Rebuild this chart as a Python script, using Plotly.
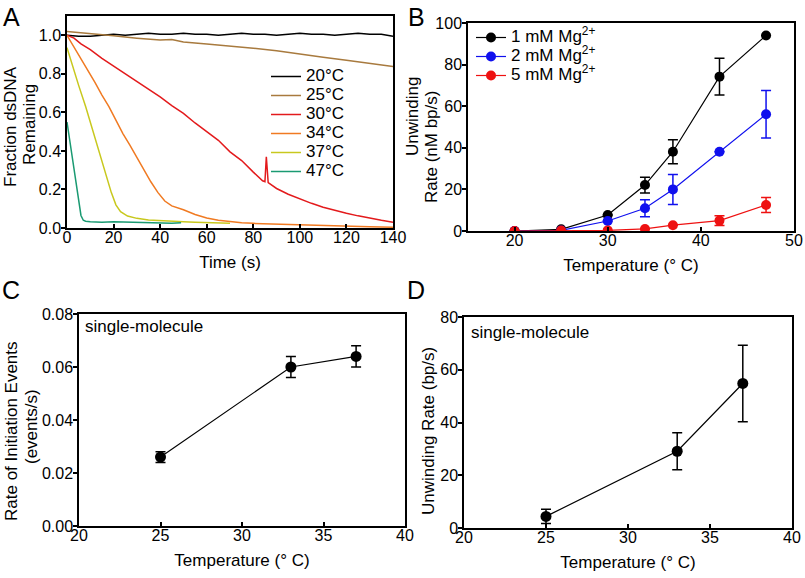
import plotly.graph_objects as go

# ---------------- Panel A data ----------------
t20 = [0, 5, 10, 15, 20, 25, 30, 35, 40, 45, 50, 55, 60, 65, 70, 75, 80, 85, 90, 95, 100, 105, 110, 115, 120, 125, 130, 135, 140]
f20 = [1.00, 0.995, 0.995, 1.0, 1.005, 1.0, 1.005, 1.01, 1.005, 1.005, 1.01, 1.005, 1.005, 1.0, 1.005, 1.01, 1.005, 1.005, 1.0, 1.005, 1.01, 1.005, 1.005, 1.0, 1.005, 1.01, 1.005, 1.005, 0.995]

t25 = [0, 10, 20, 30, 40, 45, 50, 60, 70, 80, 90, 100, 110, 120, 130, 140]
f25 = [1.02, 1.01, 0.997, 0.985, 0.975, 0.978, 0.965, 0.955, 0.945, 0.933, 0.92, 0.902, 0.886, 0.87, 0.855, 0.838]

t30 = [0, 3, 6, 10, 15, 20, 25, 30, 35, 40, 45, 50, 55, 60, 65, 70, 75, 80, 84, 85, 85.6, 86.4, 90, 95, 100, 105, 110, 115, 120, 125, 130, 135, 140]
f30 = [1.0, 0.985, 0.955, 0.925, 0.88, 0.84, 0.80, 0.76, 0.72, 0.68, 0.635, 0.595, 0.545, 0.50, 0.455, 0.395, 0.35, 0.29, 0.245, 0.24, 0.37, 0.235, 0.205, 0.175, 0.15, 0.128, 0.108, 0.09, 0.076, 0.063, 0.05, 0.04, 0.03]

t34 = [0, 3, 6, 9, 12, 15, 18, 21, 24, 27, 30, 33, 36, 39, 42, 45, 50, 55, 60, 65, 70, 75, 80, 90, 100, 110, 120, 130, 140]
f34 = [1.0, 0.94, 0.88, 0.815, 0.755, 0.69, 0.63, 0.56, 0.49, 0.43, 0.365, 0.30, 0.24, 0.185, 0.14, 0.115, 0.095, 0.07, 0.052, 0.04, 0.032, 0.027, 0.024, 0.02, 0.016, 0.013, 0.01, 0.007, 0.004]

t37 = [0, 3, 5, 8, 11, 13, 15, 17, 19, 21, 23, 26, 30, 35, 40, 45, 50, 55, 60, 65, 70]
f37 = [0.936, 0.81, 0.74, 0.63, 0.51, 0.43, 0.35, 0.265, 0.185, 0.12, 0.085, 0.062, 0.05, 0.042, 0.038, 0.035, 0.032, 0.03, 0.028, 0.026, 0.025]

t47 = [0, 1, 2, 3, 4, 5, 6, 7, 8, 10, 15, 20, 25, 30, 35, 40, 45, 49]
f47 = [0.55, 0.47, 0.38, 0.29, 0.21, 0.13, 0.065, 0.04, 0.035, 0.032, 0.03, 0.032, 0.03, 0.028, 0.027, 0.025, 0.025, 0.027]

a_labels = ["20°C", "25°C", "30°C", "34°C", "37°C", "47°C"]
a_colors = ["#000000", "#a87a3e", "#e31a1c", "#f07a22", "#c8c81e", "#1a9a72"]

# ---------------- Panel B data ----------------
b_temp = [20, 25, 30, 34, 37, 42, 47]
b_mg1 = [0, 0.8, 7.7, 22.1, 38.1, 74.2, 94.0]
b_mg1_err = [0, 0, 0, 3.8, 5.8, 8.8, 0]
b_mg2 = [0, 0.3, 4.8, 10.9, 20.0, 38.1, 56.1]
b_mg2_err = [0, 0, 0, 4.1, 7.2, 0, 11.4]
b_mg5 = [0, 0.2, 0.3, 1.0, 2.8, 5.0, 12.5]
b_mg5_err = [0, 0, 0, 0, 0, 2.3, 3.6]
b_labels = ["1 mM Mg<sup>2+</sup>", "2 mM Mg<sup>2+</sup>", "5 mM Mg<sup>2+</sup>"]
b_colors = ["#000000", "#1010ee", "#ee1111"]

# ---------------- Panel C / D data ----------------
sm_temp = [25, 33, 37]
c_rate = [0.026, 0.060, 0.064]
c_err = [0.002, 0.004, 0.004]
d_rate = [4.4, 29.1, 54.8]
d_err = [2.7, 7.0, 14.5]

FONT = "Arial, Liberation Sans, Helvetica, sans-serif"
W, H = 805, 578
FS = 17    # titles / legend
TFS = 16   # tick labels


def big(s):
    return '<span style="font-size:%dpx">%s</span>' % (FS, s)


def px_x(px):
    return px / W


def px_y(py):
    return 1 - py / H


fig = go.Figure()

# Panel A
for t, f, lab, col in zip([t20, t25, t30, t34, t37, t47], [f20, f25, f30, f34, f37, f47], a_labels, a_colors):
    fig.add_trace(go.Scatter(x=t, y=f, mode="lines", name=big(lab), line=dict(color=col, width=1.5),
                             xaxis="x", yaxis="y", legend="legend"))

# Panel B
for y, e, lab, col in zip([b_mg1, b_mg2, b_mg5], [b_mg1_err, b_mg2_err, b_mg5_err], b_labels, b_colors):
    fig.add_trace(go.Scatter(x=b_temp, y=y, mode="lines+markers", name=big(lab),
                             line=dict(color=col, width=1.2), marker=dict(color=col, size=10),
                             error_y=dict(type="data", array=e, color=col, thickness=1.5, width=5),
                             xaxis="x2", yaxis="y2", legend="legend2"))

# Panel C
fig.add_trace(go.Scatter(x=sm_temp, y=c_rate, mode="lines+markers", showlegend=False,
                         line=dict(color="black", width=1.2), marker=dict(color="black", size=11),
                         error_y=dict(type="data", array=c_err, color="black", thickness=1.5, width=5),
                         xaxis="x3", yaxis="y3"))
# Panel D
fig.add_trace(go.Scatter(x=sm_temp, y=d_rate, mode="lines+markers", showlegend=False,
                         line=dict(color="black", width=1.2), marker=dict(color="black", size=11),
                         error_y=dict(type="data", array=d_err, color="black", thickness=1.5, width=5),
                         xaxis="x4", yaxis="y4"))


def dom_x(a, b):
    return [px_x(a), px_x(b)]


def dom_y(top, bottom):
    return [px_y(bottom), px_y(top)]


axis_common = dict(showline=True, linecolor="black", linewidth=1.5, mirror=True, showgrid=False,
                   zeroline=False, tickcolor="black", ticklen=4, tickwidth=1.5, automargin=False,
                   tickfont=dict(family=FONT, size=TFS, color="black"))
xcommon = dict(axis_common, ticks="inside", ticklabelstandoff=-6)
ycommon = dict(axis_common, ticks="outside", ticklabelstandoff=-3)
title_font = dict(family=FONT, size=FS, color="black")

fig.update_layout(
    width=W, height=H, margin=dict(l=0, r=0, t=0, b=0, pad=0, autoexpand=False),
    paper_bgcolor="white", plot_bgcolor="white",
    font=dict(family=FONT, color="black"),
    xaxis=dict(xcommon, domain=dom_x(67, 393), anchor="y", range=[0, 140], dtick=20,
               title=dict(text="Time (s)", font=title_font, standoff=11)),
    yaxis=dict(ycommon, domain=dom_y(16, 228), anchor="x", range=[0, 1.1], tickvals=[0, 0.2, 0.4, 0.6, 0.8, 1.0],
               tickformat=".1f"),
    xaxis2=dict(xcommon, domain=dom_x(468, 794), anchor="y2", range=[15, 50], tickvals=[20, 30, 40, 50],
                title=dict(text="Temperature (° C)", font=title_font, standoff=11)),
    yaxis2=dict(ycommon, domain=dom_y(23, 231), anchor="x2", range=[0, 100], dtick=20),
    xaxis3=dict(xcommon, domain=dom_x(79, 405), anchor="y3", range=[20, 40], dtick=5,
                title=dict(text="Temperature (° C)", font=title_font, standoff=11)),
    yaxis3=dict(ycommon, domain=dom_y(314, 526), anchor="x3", range=[0, 0.08], dtick=0.02,
                tickformat=".2f"),
    xaxis4=dict(xcommon, domain=dom_x(464, 792), anchor="y4", range=[20, 40], dtick=5,
                title=dict(text="Temperature (° C)", font=title_font, standoff=11)),
    yaxis4=dict(ycommon, domain=dom_y(317, 528), anchor="x4", range=[0, 80], dtick=20),
    legend=dict(x=px_x(266), y=px_y(62), xanchor="left", yanchor="top", bgcolor="rgba(0,0,0,0)",
                font=dict(family=FONT, size=11, color="black"), tracegroupgap=0, itemwidth=30),
    legend2=dict(x=px_x(471), y=px_y(23), xanchor="left", yanchor="top", bgcolor="rgba(0,0,0,0)",
                 font=dict(family=FONT, size=11, color="black"), tracegroupgap=0, itemwidth=30),
)


def note(text, px, py, size=FS, angle=0, xanchor="center"):
    fig.add_annotation(text=text, x=px_x(px), y=px_y(py), xref="paper", yref="paper",
                       xanchor=xanchor, yanchor="middle", textangle=angle, showarrow=False,
                       font=dict(family=FONT, size=size, color="black"))


# panel letters
for txt, px, py in [("A", 11, 17), ("B", 416, 17), ("C", 11, 290), ("D", 416, 290)]:
    note(txt, px, py, size=25)

# y-axis titles
note("Fraction dsDNA", 10, 127, angle=-90)
note("Remaining", 30, 125, angle=-90)
note("Unwinding", 412, 117, angle=-90)
note("Rate (nM bp/s)", 431, 147, angle=-90)
note("Rate of Initiation Events", 11, 431, angle=-90)
note("(events/s)", 31, 426, angle=-90)
note("Unwinding Rate (bp/s)", 428, 431, angle=-90)

# inset labels
note("single-molecule", 83, 326, xanchor="left")
note("single-molecule", 469, 332, xanchor="left")

# remove the default 8px page margin so the figure fills the window; hide the modebar
fig.write_html("out.html", config={"displayModeBar": False},
               post_script="document.body.style.margin='0';")
